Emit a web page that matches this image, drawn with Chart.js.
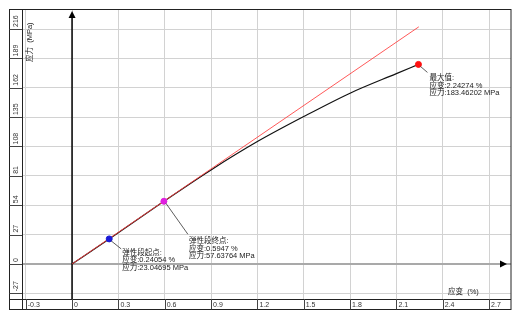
<!DOCTYPE html>
<html>
<head>
<meta charset="utf-8">
<script src="https://cdn.jsdelivr.net/npm/chart.js@4/dist/chart.umd.min.js"></script>
<style>
    html, body { margin: 0; padding: 0; background: #fff; }
    canvas { display: block; }
</style>
</head>
<body>
<canvas id="stress-strain-chart" width="519" height="318"></canvas>
<script>
const xTicks = [-0.3, 0, 0.3, 0.6, 0.9, 1.2, 1.5, 1.8, 2.1, 2.4, 2.7];
const yTicks = [-27, 0, 27, 54, 81, 108, 135, 162, 189, 216];

const curveStrain = [0, 0.24054, 0.5947, 0.9, 1.2, 1.5, 1.8, 2.1, 2.24274];
const curveStress = [0, 23.04695, 57.63764, 86.5, 112.5, 135.5, 157, 175, 183.46202];

const elasticStrain = [0, 2.245];
const elasticStress = [0, 218];

const markStrain = [0.24054, 0.5947, 2.24274];
const markStress = [23.04695, 57.63764, 183.46202];
const markColors = ["#1a1ad6", "#e020e0", "#ff1010"];
const markNotes = [
    ["弹性段起点:", "应变:0.24054 %", "应力:23.04695 MPa"],
    ["弹性段终点:", "应变:0.5947 %", "应力:57.63764 MPa"],
    ["最大值:", "应变:2.24274 %", "应力:183.46202 MPa"],
];

const toPoints = (xs, ys) => xs.map((x, i) => ({ x, y: ys[i] }));

const labelFont = "7px 'Liberation Sans', 'Noto Sans CJK SC', sans-serif";
const noteFont = "7.5px 'Liberation Sans', 'Noto Sans CJK SC', sans-serif";

const frame = {
    id: "frame",
    beforeDatasetsDraw(chart) {
        const { ctx, chartArea: a, scales } = chart;
        const x0 = scales.x.getPixelForValue(0);
        const y0 = scales.y.getPixelForValue(0);

        ctx.save();
        ctx.strokeStyle = "#000";
        ctx.fillStyle = "#000";
        ctx.lineWidth = 1.5;
        ctx.beginPath();
        ctx.moveTo(x0, a.bottom);
        ctx.lineTo(x0, a.top + 6);
        ctx.stroke();
        ctx.beginPath();
        ctx.moveTo(x0, a.top + 2);
        ctx.lineTo(x0 - 3.5, a.top + 9);
        ctx.lineTo(x0 + 3.5, a.top + 9);
        ctx.closePath();
        ctx.fill();
        ctx.beginPath();
        ctx.moveTo(a.right - 4, y0);
        ctx.lineTo(a.right - 11, y0 - 3.5);
        ctx.lineTo(a.right - 11, y0 + 3.5);
        ctx.closePath();
        ctx.fill();
        ctx.restore();
    },
    afterDraw(chart) {
        const { ctx, chartArea: a, scales } = chart;
        const left = 9.5;
        const bottom = 309.5;

        ctx.save();
        ctx.strokeStyle = "#222";
        ctx.lineWidth = 1;
        ctx.strokeRect(left, a.top + 0.5, a.right - left, bottom - a.top - 0.5);
        ctx.beginPath();
        ctx.moveTo(a.left + 0.5, a.top);
        ctx.lineTo(a.left + 0.5, bottom);
        ctx.moveTo(left, a.bottom + 0.5);
        ctx.lineTo(a.right, a.bottom + 0.5);
        ctx.stroke();

        // tick strips
        ctx.strokeStyle = "#444";
        ctx.beginPath();
        xTicks.forEach((v) => {
            const px = Math.round(scales.x.getPixelForValue(v)) + 0.5;
            ctx.moveTo(px, a.bottom);
            ctx.lineTo(px, bottom);
        });
        yTicks.forEach((v) => {
            const py = Math.round(scales.y.getPixelForValue(v)) + 0.5;
            ctx.moveTo(left, py);
            ctx.lineTo(a.left, py);
        });
        ctx.stroke();

        ctx.fillStyle = "#333";
        ctx.font = labelFont;
        ctx.textBaseline = "middle";
        ctx.textAlign = "left";
        xTicks.forEach((v) => {
            const px = scales.x.getPixelForValue(v);
            ctx.fillText(String(v), px + 2, (a.bottom + bottom) / 2 + 0.5);
        });
        yTicks.forEach((v) => {
            const py = scales.y.getPixelForValue(v);
            ctx.save();
            ctx.translate((left + a.left) / 2 + 0.5, py - 2);
            ctx.rotate(-Math.PI / 2);
            ctx.fillText(String(v), 0, 0);
            ctx.restore();
        });

        // axis titles
        ctx.font = noteFont;
        ctx.fillStyle = "#222";
        ctx.fillText("应变  (%)", 448, 292);
        ctx.save();
        ctx.translate(29.5, 62);
        ctx.rotate(-Math.PI / 2);
        ctx.fillText("应力  (MPa)", 0, 0);
        ctx.restore();

        // notes
        const leads = [[12, 10], [24, 33], [9, 8]];
        const texts = [[13, 14], [25, 40], [11, 14]];
        ctx.strokeStyle = "#333";
        ctx.lineWidth = 0.8;
        markStrain.forEach((sx, i) => {
            const px = scales.x.getPixelForValue(sx);
            const py = scales.y.getPixelForValue(markStress[i]);
            ctx.beginPath();
            ctx.moveTo(px + 2, py + 2);
            ctx.lineTo(px + leads[i][0], py + leads[i][1]);
            ctx.stroke();
            markNotes[i].forEach((line, j) => {
                ctx.fillText(line, px + texts[i][0], py + texts[i][1] + j * 7.5);
            });
        });
        ctx.restore();
    },
};

new Chart(document.getElementById("stress-strain-chart"), {
    type: "scatter",
    data: {
        datasets: [
            {
                data: toPoints(markStrain, markStress),
                order: 0,
                showLine: false,
                pointRadius: 3,
                pointBackgroundColor: markColors,
                pointBorderColor: markColors,
            },
            {
                data: toPoints(elasticStrain, elasticStress),
                order: 1,
                showLine: true,
                borderColor: "rgba(255, 60, 60, 0.85)",
                borderWidth: 1,
                pointRadius: 0,
            },
            {
                data: toPoints(curveStrain, curveStress),
                order: 2,
                showLine: true,
                borderColor: "#111",
                borderWidth: 1.2,
                cubicInterpolationMode: "monotone",
                pointRadius: 0,
            },
        ],
    },
    options: {
        responsive: false,
        animation: false,
        events: [],
        layout: { padding: { left: 22, top: 9, right: 8, bottom: 19 } },
        plugins: { legend: { display: false }, tooltip: { enabled: false } },
        scales: {
            x: {
                type: "linear",
                min: -0.324,
                max: 2.842,
                afterBuildTicks(scale) {
                    scale.ticks = xTicks.map((value) => ({ value }));
                },
                ticks: { display: false },
                border: { display: false },
                grid: { color: "#d2d2d2", drawTicks: false },
            },
            y: {
                type: "linear",
                min: -32.2,
                max: 234.4,
                afterBuildTicks(scale) {
                    scale.ticks = yTicks.map((value) => ({ value }));
                },
                ticks: { display: false },
                border: { display: false },
                grid: {
                    drawTicks: false,
                    color: (ctx) => (ctx.tick && ctx.tick.value === 0 ? "#a9a9a9" : "#d2d2d2"),
                    lineWidth: (ctx) => (ctx.tick && ctx.tick.value === 0 ? 2 : 1),
                },
            },
        },
    },
    plugins: [frame],
});
</script>
</body>
</html>
